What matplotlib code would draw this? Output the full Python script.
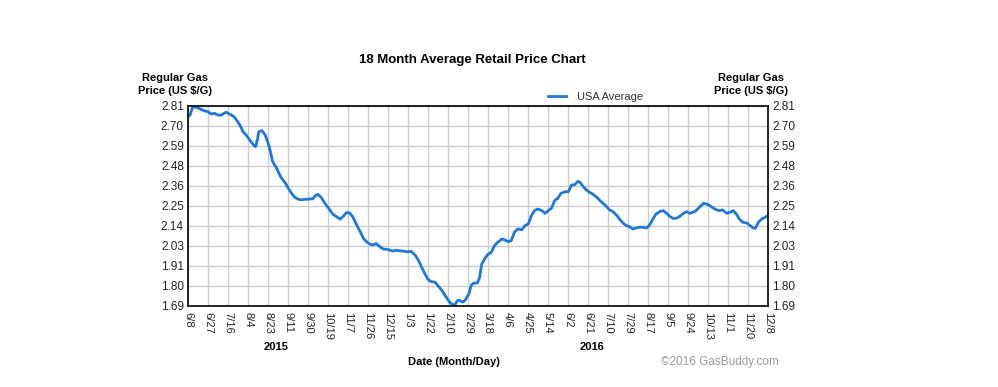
import matplotlib
matplotlib.use("Agg")
import matplotlib.pyplot as plt
import numpy as np

plt.rcParams['font.family'] = ['Liberation Sans', 'DejaVu Sans']

# Days since 2015-06-08 and average price (US $/G)
days = [0, 2, 4, 6, 9, 13, 16, 19, 22, 25, 28, 31, 33, 36, 38, 41, 44, 47, 50, 52,
        55, 58, 62, 64, 66, 67, 70, 73, 76, 78, 80, 84, 88, 92, 95, 98, 101, 104, 107, 110,
        115, 118, 121, 123, 126, 129, 131, 134, 137, 140, 144, 147, 150, 153, 156, 159, 163, 166, 169, 172,
        175, 178, 181, 185, 188, 191, 194, 197, 200, 204, 208, 211, 215, 218, 221, 224, 227, 230, 234, 237,
        240, 243, 246, 249, 251, 253, 255, 257, 260, 262, 264, 266, 268, 270, 274, 276, 278, 281, 284, 287,
        290, 293, 297, 300, 303, 306, 309, 312, 316, 319, 322, 325, 328, 331, 335, 338, 341, 344, 347, 350,
        353, 357, 360, 363, 366, 369, 371, 374, 377, 380, 383, 387, 390, 393, 396, 399, 402, 406, 409, 412,
        415, 418, 421, 424, 428, 431, 434, 437, 440, 443, 447, 450, 453, 456, 459, 462, 465, 469, 472, 475,
        478, 481, 484, 488, 491, 494, 497, 500, 503, 506, 510, 513, 516, 519, 522, 525, 529, 532, 535, 537,
        540, 543, 546, 549]
prices = [2.750, 2.760, 2.797, 2.806, 2.800, 2.790, 2.782, 2.778, 2.765, 2.769, 2.760, 2.758, 2.765, 2.775, 2.769, 2.760, 2.747, 2.722, 2.694, 2.666,
          2.648, 2.623, 2.592, 2.582, 2.630, 2.666, 2.672, 2.648, 2.600, 2.555, 2.500, 2.460, 2.410, 2.380, 2.349, 2.321, 2.299, 2.289, 2.284, 2.287,
          2.289, 2.290, 2.310, 2.315, 2.299, 2.270, 2.254, 2.230, 2.204, 2.193, 2.176, 2.193, 2.213, 2.211, 2.189, 2.152, 2.106, 2.069, 2.050, 2.037,
          2.031, 2.040, 2.025, 2.008, 2.008, 2.003, 1.997, 2.003, 1.999, 1.997, 1.993, 1.997, 1.975, 1.947, 1.910, 1.873, 1.840, 1.827, 1.823, 1.800,
          1.780, 1.753, 1.725, 1.703, 1.697, 1.700, 1.720, 1.721, 1.712, 1.720, 1.740, 1.760, 1.805, 1.817, 1.820, 1.850, 1.924, 1.956, 1.980, 1.990,
          2.027, 2.046, 2.065, 2.060, 2.050, 2.056, 2.103, 2.121, 2.117, 2.140, 2.149, 2.196, 2.224, 2.233, 2.224, 2.209, 2.224, 2.237, 2.280, 2.293,
          2.321, 2.330, 2.330, 2.367, 2.369, 2.388, 2.383, 2.360, 2.340, 2.327, 2.317, 2.299, 2.280, 2.264, 2.248, 2.228, 2.220, 2.196, 2.173, 2.153,
          2.140, 2.134, 2.121, 2.127, 2.131, 2.131, 2.127, 2.144, 2.177, 2.205, 2.220, 2.224, 2.209, 2.192, 2.181, 2.181, 2.190, 2.209, 2.218, 2.209,
          2.215, 2.224, 2.243, 2.265, 2.261, 2.252, 2.239, 2.229, 2.224, 2.228, 2.209, 2.215, 2.224, 2.205, 2.177, 2.159, 2.155, 2.140, 2.127, 2.125,
          2.159, 2.177, 2.186, 2.196]

x_tick_labels = ['6/8', '6/27', '7/16', '8/4', '8/23', '9/11', '9/30', '10/19', '11/7', '11/26',
                 '12/15', '1/3', '1/22', '2/10', '2/29', '3/18', '4/6', '4/25', '5/14', '6/2',
                 '6/21', '7/10', '7/29', '8/17', '9/5', '9/24', '10/13', '11/1', '11/20', '12/8']
y_tick_labels = ['1.69', '1.80', '1.91', '2.03', '2.14', '2.25', '2.36', '2.48', '2.59', '2.70', '2.81']
series_name = 'USA Average'
title = '18 Month Average Retail Price Chart'

W, H = 998, 387
fig = plt.figure(figsize=(W / 100, H / 100), dpi=100)
ax = fig.add_axes([188 / W, 1 - 306 / H, (768 - 188) / W, (306 - 106) / H])

total_days = 549
ymin, ymax = float(y_tick_labels[0]), float(y_tick_labels[-1])
ax.set_xlim(0, total_days)
ax.set_ylim(ymin, ymax)

xt = np.linspace(0, total_days, len(x_tick_labels))
yt = np.linspace(ymin, ymax, len(y_tick_labels))
ax.set_xticks(xt)
ax.set_xticklabels(x_tick_labels, rotation=-90, fontsize=8, color='#222222')
ax.set_yticks(yt)
ax.set_yticklabels(y_tick_labels, fontsize=8.5, color='#222222')
ax.tick_params(axis='both', length=0, pad=4)
ax.tick_params(axis='y', labelleft=True, labelright=True, pad=3)
ax.grid(True, color='#cccccc', linewidth=1.0)
ax.set_axisbelow(True)
for s in ax.spines.values():
    s.set_color('black')
    s.set_linewidth(1.2)

line, = ax.plot(days, prices, color='#1e78d7', linewidth=2.0, label=series_name,
                solid_joinstyle='round')

fig.legend(handles=[line], labels=[series_name], loc='center left',
           bbox_to_anchor=(538 / W, 1 - 97 / H), frameon=False, fontsize=8,
           handlelength=1.6, handletextpad=1.0, labelcolor='#333333')

fig.text(472 / W, 1 - 60 / H, title, ha='center', va='center', fontsize=9.5, fontweight='bold')
for xc in (175, 751):
    fig.text(xc / W, 1 - 84.5 / H, 'Regular Gas\nPrice (US $/G)', ha='center', va='center',
             fontsize=8, fontweight='bold', linespacing=1.3)
fig.text(276 / W, 1 - 347 / H, '2015', ha='center', va='center', fontsize=8, fontweight='bold')
fig.text(592 / W, 1 - 347 / H, '2016', ha='center', va='center', fontsize=8, fontweight='bold')
fig.text(454 / W, 1 - 362 / H, 'Date (Month/Day)', ha='center', va='center', fontsize=8, fontweight='bold')
fig.text(720 / W, 1 - 362 / H, '\u00a92016 GasBuddy.com', ha='center', va='center', fontsize=8.5,
         color='#9a9a9a')

fig.savefig('out.png', dpi=100)
